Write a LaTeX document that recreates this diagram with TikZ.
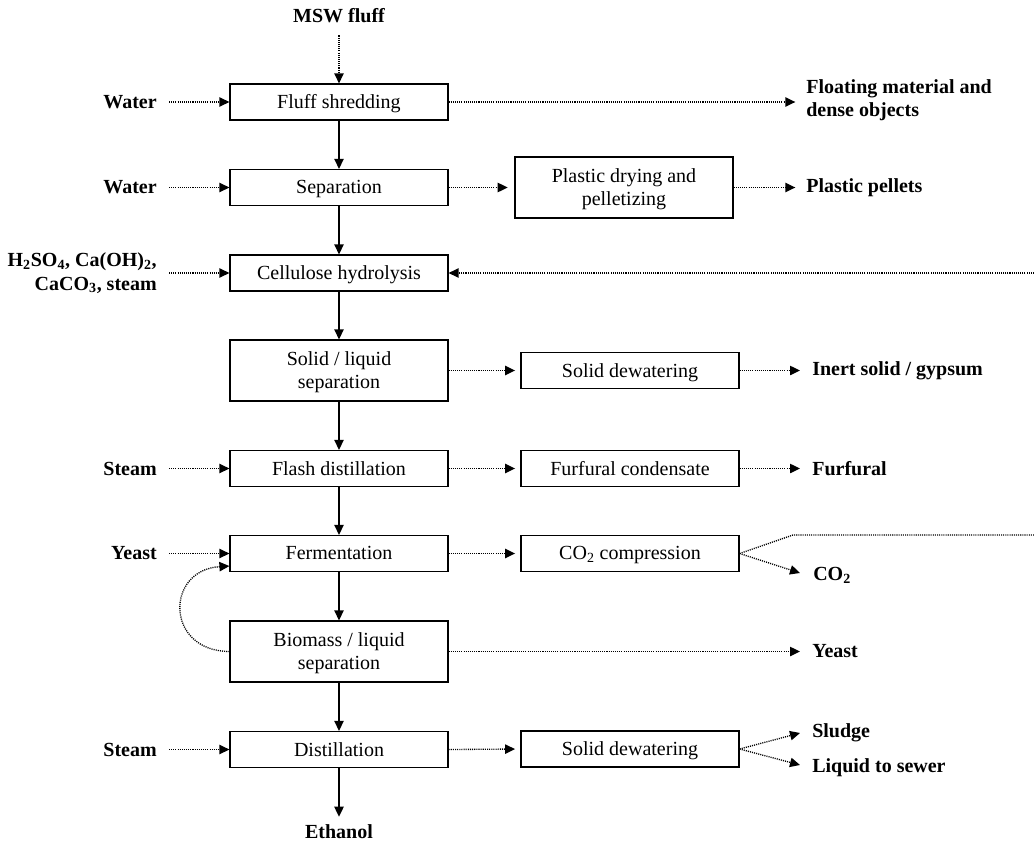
\documentclass[tikz,border=0pt]{standalone}
\usepackage{fontspec}
\setmainfont{Liberation Serif}
\usetikzlibrary{arrows.meta}
\begin{document}
\begin{tikzpicture}[x=0.75pt,y=-0.75pt,
  font=\fontsize{15}{17.5}\selectfont,
  box/.style={draw,line width=0.9pt,minimum width=163.5pt,minimum height=27pt,align=center,inner sep=2pt,text depth=0.5pt},
  tallbox/.style={box,minimum height=45.75pt},
  lbl/.style={font=\fontsize{15}{17.5}\selectfont\bfseries,inner sep=0pt},
  flow/.style={line width=1.1pt,-{Triangle[length=7.5pt,width=7pt]}},
  dflow/.style={line width=1pt,dash pattern=on 0.8pt off 0.8pt,-{Triangle[length=7.5pt,width=7pt]}},
  dline/.style={line width=1pt,dash pattern=on 0.8pt off 0.8pt}]
\useasboundingbox (0,0) rectangle (1034,846);
% main column
\node[box] (fs) at (339,102) {Fluff shredding};
\node[box] (sep) at (339,187.5) {Separation};
\node[box] (ch) at (339,273) {Cellulose hydrolysis};
\node[tallbox] (sl) at (339,370.5) {Solid / liquid\\separation};
\node[box] (fd) at (339,468.5) {Flash distillation};
\node[box] (fer) at (339,553.5) {Fermentation};
\node[tallbox] (bio) at (339,651.5) {Biomass / liquid\\separation};
\node[box] (dis) at (339,749.5) {Distillation};
% side boxes
\node[tallbox] (pl) at (624,187.5) {Plastic drying and\\pelletizing};
\node[box] (sd1) at (630,370.5) {Solid dewatering};
\node[box] (fc) at (630,468.5) {Furfural condensate};
\node[box] (co2c) at (630,553.5) {CO\textsubscript{2} compression};
\node[box] (sd2) at (630,749) {Solid dewatering};
% left labels
\node[lbl,anchor=east] (w1) at (157,102) {Water};
\node[lbl,anchor=east] (w2) at (157,187.5) {Water};
\node[lbl,anchor=east,align=right] (chem) at (157,273) {H\textsubscript{2}SO\textsubscript{4}, Ca(OH)\textsubscript{2},\\CaCO\textsubscript{3}, steam};
\node[lbl,anchor=east] (st1) at (157,468.5) {Steam};
\node[lbl,anchor=east] (ye1) at (157,553.5) {Yeast};
\node[lbl,anchor=east] (st2) at (157,749.5) {Steam};
% top/bottom labels
\node[lbl] (msw) at (339,16) {MSW fluff};
\node[lbl] (eth) at (339,832) {Ethanol};
% right labels
\node[lbl,anchor=west,align=left] (flo) at (806,100) {Floating material and\\dense objects};
\node[lbl,anchor=west] (pp) at (806,187.5) {Plastic pellets};
\node[lbl,anchor=west] (inert) at (812,370.5) {Inert solid / gypsum};
\node[lbl,anchor=west] (fur) at (812,468.5) {Furfural};
\node[lbl,anchor=west] (co2) at (813,575) {CO\textsubscript{2}};
\node[lbl,anchor=west] (ye2) at (812,651.5) {Yeast};
\node[lbl,anchor=west] (sl2) at (812,733) {Sludge};
\node[lbl,anchor=west] (lts) at (812,768) {Liquid to sewer};
% coordinates
\coordinate (recin) at (1034,273);
\coordinate (co2k) at (793,535);
\coordinate (co2out) at (1034,535);
\coordinate (co2tip) at (800,573);
\coordinate (sltip) at (800,733);
\coordinate (lttip) at (800,765);
% main solid arrows
\draw[flow] (fs) -- (sep);
\draw[flow] (sep) -- (ch);
\draw[flow] (ch) -- (sl);
\draw[flow] (sl) -- (fd);
\draw[flow] (fd) -- (fer);
\draw[flow] (fer) -- (bio);
\draw[flow] (bio) -- (dis);
\draw[flow] (dis.south) -- ([yshift=6pt]eth.north);
% dotted inputs
\draw[dflow] ([yshift=-9pt]msw.south) -- (fs.north);
\draw[dflow] ([xshift=9pt]w1.east) -- (fs.west);
\draw[dflow] ([xshift=9pt]w2.east) -- (sep.west);
\draw[dflow] ([xshift=9pt]chem.east) -- (ch.west);
\draw[dflow] ([xshift=9pt]st1.east) -- (fd.west);
\draw[dflow] ([xshift=9pt]ye1.east) -- (fer.west);
\draw[dflow] ([xshift=9pt]st2.east) -- (dis.west);
% dotted outputs
\draw[dflow,shorten >=8pt] (fs.east) -- (fs.east -| flo.west);
\draw[dflow,shorten >=5pt] (sep.east) -- (pl.west);
\draw[dflow,shorten >=8pt] (pl.east) -- (pp.west);
\draw[dflow,shorten >=4pt] (sl.east) -- (sd1.west);
\draw[dflow,shorten >=9pt] (sd1.east) -- (inert.west);
\draw[dflow,shorten >=4pt] (fd.east) -- (fc.west);
\draw[dflow,shorten >=9pt] (fc.east) -- (fur.west);
\draw[dflow,shorten >=4pt] (fer.east) -- (co2c.west);
\draw[dline] (co2c.east) -- (co2k) -- (co2out);
\draw[dflow] (co2c.east) -- (co2tip);
\draw[dflow,shorten >=9pt] (bio.east) -- (ye2.west);
\draw[dflow,shorten >=4pt] (dis.east) -- (sd2.west);
\draw[dflow] (sd2.east) -- (sltip);
\draw[dflow] (sd2.east) -- (lttip);
\draw[dflow] (recin) -- (ch.east);
% recycle loop
\draw[dflow] (bio.west) .. controls (165,651) and (165,570) .. ([yshift=-9.4pt]fer.west);
\end{tikzpicture}
\end{document}
